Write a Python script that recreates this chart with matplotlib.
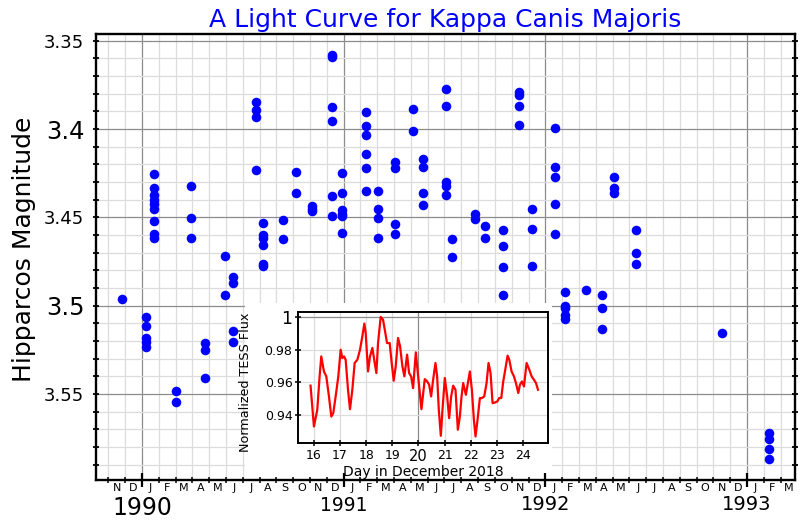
import matplotlib
matplotlib.use('Agg')
import matplotlib.pyplot as plt
import matplotlib.transforms as mtransforms
from matplotlib.patches import Rectangle
import numpy as np

# Hipparcos epochs (decimal years) and the magnitudes at each epoch
epochs = [1989.899, 1990.018, 1990.059, 1990.169, 1990.243, 1990.312, 1990.411, 1990.45,
          1990.564, 1990.602, 1990.70, 1990.763, 1990.844, 1990.944, 1990.99, 1991.111,
          1991.172, 1991.255, 1991.342, 1991.391, 1991.507, 1991.535, 1991.651, 1991.70,
          1991.788, 1991.871, 1991.932, 1992.048, 1992.10, 1992.20, 1992.279, 1992.342,
          1992.448, 1992.874, 1993.11]
mags = [
    [3.4965],
    [3.5063, 3.5114, 3.5182, 3.5204, 3.5236],
    [3.4253, 3.4332, 3.4376, 3.4404, 3.4423, 3.4451, 3.4523, 3.4592, 3.4615],
    [3.5483, 3.5543],
    [3.4323, 3.4504, 3.4615],
    [3.521, 3.5251, 3.5411],
    [3.472, 3.494],
    [3.4837, 3.4871, 3.5142, 3.5205],
    [3.3849, 3.3892, 3.3933, 3.4234],
    [3.4532, 3.4602, 3.4615, 3.4654, 3.4762, 3.4777],
    [3.4513, 3.4624],
    [3.4244, 3.4363],
    [3.4438, 3.4451, 3.4466],
    [3.3581, 3.3594, 3.3873, 3.3952, 3.4381, 3.4494],
    [3.4247, 3.4363, 3.446, 3.4479, 3.4494, 3.4587],
    [3.3901, 3.3984, 3.4031, 3.4144, 3.4221, 3.4353],
    [3.4351, 3.4455, 3.4504, 3.4615],
    [3.4184, 3.4221, 3.4536, 3.4592],
    [3.3886, 3.4012],
    [3.4172, 3.4216, 3.4363, 3.4432],
    [3.3773, 3.3867, 3.4301, 3.4325, 3.4376],
    [3.4624, 3.4724],
    [3.4479, 3.4507],
    [3.4551, 3.4615],
    [3.4573, 3.4664, 3.4781, 3.4941],
    [3.3792, 3.3807, 3.3867, 3.3975],
    [3.4455, 3.4564, 3.4775],
    [3.3995, 3.4216, 3.4272, 3.4427, 3.4592],
    [3.4922, 3.5001, 3.5016, 3.5054, 3.5078],
    [3.4912],
    [3.4941, 3.5016, 3.5133],
    [3.4272, 3.4332, 3.4363],
    [3.4569, 3.4702, 3.4762],
    [3.5154],
    [3.5719, 3.5754, 3.5811, 3.5869],
]

# TESS light curve, December 2018
tess_day = [15.87, 16.00, 16.128, 16.217, 16.281, 16.383, 16.473, 16.575, 16.665, 16.741,
            16.831, 16.933, 17.023, 17.086, 17.150, 17.214, 17.304, 17.380, 17.470, 17.559,
            17.662, 17.764, 17.853, 17.930, 17.981, 18.071, 18.147, 18.237, 18.326, 18.390,
            18.454, 18.556, 18.645, 18.722, 18.798, 18.900, 18.977, 19.054, 19.131, 19.220,
            19.297, 19.387, 19.463, 19.566, 19.643, 19.720, 19.796, 19.900, 20.002, 20.115,
            20.243, 20.333, 20.410, 20.486, 20.563, 20.652, 20.716, 20.780, 20.857, 20.921,
            21.010, 21.100, 21.176, 21.253, 21.330, 21.419, 21.509, 21.586, 21.650, 21.713,
            21.816, 21.893, 21.969, 22.046, 22.123, 22.186, 22.263, 22.352, 22.429, 22.519,
            22.608, 22.684, 22.761, 22.838, 22.927, 23.017, 23.093, 23.170, 23.247, 23.324,
            23.413, 23.477, 23.566, 23.656, 23.733, 23.822, 23.886, 23.963, 24.040, 24.141,
            24.244, 24.334, 24.423, 24.500, 24.577]
tess_flux = [0.9579, 0.9329, 0.9431, 0.9636, 0.9758, 0.9666, 0.9636, 0.9513, 0.9390, 0.9411,
             0.9513, 0.9636, 0.9799, 0.9748, 0.9758, 0.9738, 0.9554, 0.9435, 0.9554, 0.9718,
             0.9738, 0.9799, 0.9881, 0.9959, 0.9902, 0.9666, 0.9758, 0.9810, 0.9718, 0.9656,
             0.9840, 1.0000, 0.9983, 0.9912, 0.9840, 0.9840, 0.9718, 0.9609, 0.9697, 0.9871,
             0.9820, 0.9697, 0.9636, 0.9769, 0.9656, 0.9636, 0.9564, 0.9783, 0.9615, 0.9435,
             0.9619, 0.9605, 0.9585, 0.9513, 0.9615, 0.9718, 0.9636, 0.9431, 0.9272, 0.9431,
             0.9626, 0.9513, 0.9380, 0.9513, 0.9579, 0.9554, 0.9309, 0.9390, 0.9513, 0.9595,
             0.9523, 0.9595, 0.9666, 0.9554, 0.9370, 0.9268, 0.9370, 0.9503, 0.9503, 0.9513,
             0.9595, 0.9718, 0.9656, 0.9472, 0.9476, 0.9482, 0.9503, 0.9503, 0.9605, 0.9677,
             0.9763, 0.9738, 0.9666, 0.9636, 0.9595, 0.9534, 0.9585, 0.9605, 0.9574, 0.9718,
             0.9677, 0.9636, 0.9615, 0.9595, 0.9554]

month_letters = "JFMAMJJASOND"
years = [1990, 1991, 1992, 1993]
year_sizes = [17, 13.5, 14, 14]
ytick_vals = [3.35, 3.4, 3.45, 3.5, 3.55]
ytick_labels = ["3.35", "3.4", "3.45", "3.5", "3.55"]
ytick_sizes = [13, 17.5, 13, 17.5, 13]

inset_yticks = [0.94, 0.96, 0.98, 1.0]
inset_ylabels = ["0.94", "0.96", "0.98", "1"]
inset_ysizes = [9, 9, 9, 12.5]
inset_xticks = list(range(16, 25))
inset_xsizes = [9, 9, 9, 9, 10.5, 9, 9, 9, 9]

light = '#dcdcdc'
dark = '#8c8c8c'

fig = plt.figure(figsize=(8, 5.2), dpi=100)
ax = fig.add_axes([96/800, 1-480/520, (795-96)/800, (480-34)/520])

xs = [e for e, m in zip(epochs, mags) for _ in m]
ys = [v for m in mags for v in m]

xmin, xmax = 1989.772, 1993.238
ymin, ymax = 3.5987, 3.3462
ax.set_xlim(xmin, xmax)
ax.set_ylim(ymin, ymax)

# month boundaries
bounds = np.arange(1989 + 9/12, 1993 + 4/12, 1/12)
bounds = bounds[(bounds > xmin) & (bounds < xmax)]
for b in bounds:
    if abs(b - round(b)) < 1e-6:
        ax.axvline(b, color=dark, lw=0.9, zorder=0.2)
    else:
        ax.axvline(b, color=light, lw=0.9, zorder=0.2)
hl = np.arange(3.35, 3.60, 0.01)
for h in hl:
    if abs(h*20 - round(h*20)) < 1e-6:
        ax.axhline(h, color=dark, lw=0.9, zorder=0.2)
    else:
        ax.axhline(h, color=light, lw=0.9, zorder=0.2)

ax.plot(xs, ys, 'o', color='blue', ms=6.9, mec='none', zorder=3)

for s in ax.spines.values():
    s.set_linewidth(1.7)

ax.set_xticks(years)
ax.set_xticklabels([])
ax.set_xticks(bounds, minor=True)
ax.tick_params(axis='x', which='major', direction='inout', length=10, width=1.6)
ax.tick_params(axis='x', which='minor', direction='inout', length=5, width=1.1)

ax.set_yticks(ytick_vals)
ax.set_yticklabels(ytick_labels)
ax.set_yticks(hl, minor=True)
ax.tick_params(axis='y', which='both', direction='inout', length=5, width=1.3,
               left=True, right=True, pad=6)
for lab, sz in zip(ax.get_yticklabels(), ytick_sizes):
    lab.set_fontsize(sz)

trans = mtransforms.blended_transform_factory(ax.transData, ax.transAxes)
for b in bounds:
    c = b + 1/24
    if c < xmax:
        m = int(round((c - np.floor(c)) * 12 - 0.5)) % 12
        ax.text(c, -0.018, month_letters[m], transform=trans, ha='center',
                va='center', fontsize=8)
year_y = [-0.062, -0.058, -0.055, -0.055]
for yr, sz, yy in zip(years, year_sizes, year_y):
    ax.text(yr, yy, str(yr), transform=trans, ha='center', va='center', fontsize=sz)

ax.set_ylabel("Hipparcos Magnitude", fontsize=18)
ax.yaxis.set_label_coords(-0.086, 0.518)
ax.set_title("A Light Curve for Kappa Canis Majoris", color='blue', fontsize=18, pad=5)

# white box behind the inset
ax.add_patch(Rectangle((245/800, 1-478/520), 307/800, 175/520, transform=fig.transFigure,
                       facecolor='white', edgecolor='none', zorder=1, clip_on=False))

ins = fig.add_axes([298/800, 1-443/520, 250/800, 131/520])
ins.set_zorder(5)
ins.set_xlim(15.39, 24.96)
ins.set_ylim(0.9228, 1.003)
for d in inset_xticks:
    ins.axvline(d, color=dark if d == 20 else light, lw=0.9, zorder=0.2)
for f in inset_yticks:
    ins.axhline(f, color=dark if f == 1.0 else light, lw=0.9, zorder=0.2)
ins.plot(tess_day, tess_flux, color='red', lw=1.6, zorder=3)
for s in ins.spines.values():
    s.set_linewidth(1.4)
ins.set_xticks(inset_xticks)
ins.set_xticklabels([str(d) for d in inset_xticks])
ins.set_yticks(inset_yticks)
ins.set_yticklabels(inset_ylabels)
ins.tick_params(direction='inout', length=4, width=1.1, pad=2)
for lab, sz in zip(ins.get_xticklabels(), inset_xsizes):
    lab.set_fontsize(sz)
for lab, sz in zip(ins.get_yticklabels(), inset_ysizes):
    lab.set_fontsize(sz)
ins.set_xlabel("Day in December 2018", fontsize=10, labelpad=1)
ins.set_ylabel("Normalized TESS Flux", fontsize=9.2)
ins.yaxis.set_label_coords(-0.184, 0.46)

fig.savefig("out.png", dpi=100)
